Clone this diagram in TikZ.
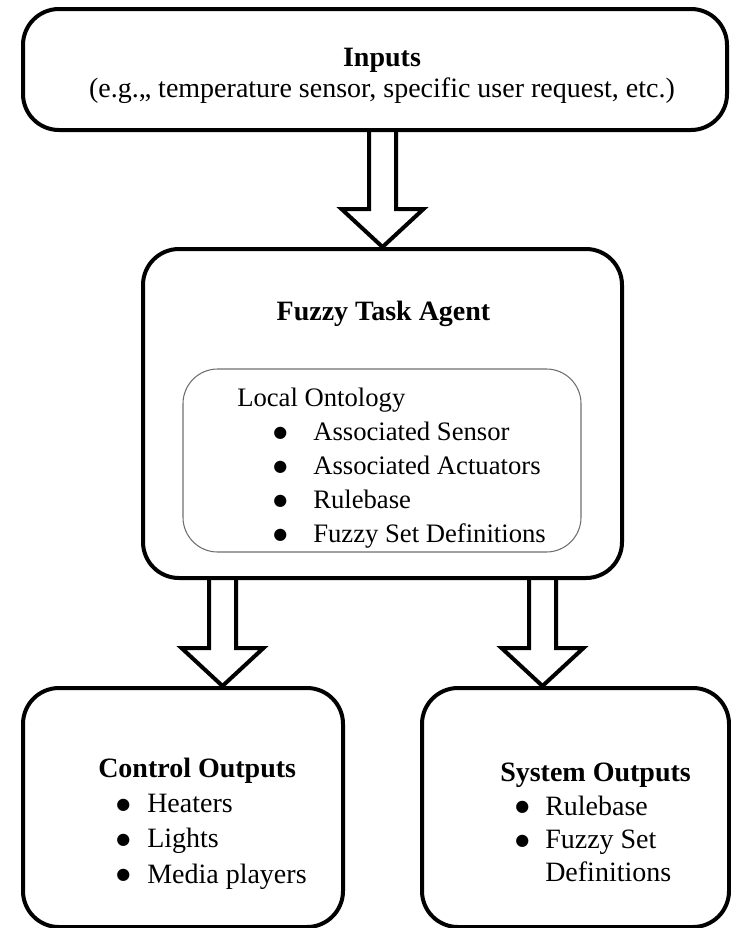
\documentclass[tikz,border=0pt]{standalone}
\usepackage{xcolor}
\usepackage{fontspec}
\setmainfont{Liberation Serif}
\newfontfamily\dotfont{DejaVu Sans}
\usetikzlibrary{calc}

\tikzset{
  bigbox/.style={draw, line width=3pt, rounded corners=27pt, inner sep=0pt},
  thinbox/.style={draw={rgb, 255:red, 110; green, 110; blue, 110}, line width=0.8pt, rounded corners=26pt, inner sep=0pt},
  blockline/.style={line width=3pt, line join=miter},
  txt/.style={inner sep=0pt, font=\fontsize{21}{25.5}\selectfont},
}
\newcommand{\bul}[1]{\makebox[#1][l]{\raisebox{2.6pt}{\dotfont\fontsize{12}{12}\selectfont ●}}}
\newcommand{\blockarrow}[2]{%
  \draw [blockline] ($(#1)+(-13.5,0)$) -- ($(#2)+(-13.5,-38)$) -- ($(#2)+(-41,-38)$) -- (#2) -- ($(#2)+(41,-38)$) -- ($(#2)+(13.5,-38)$) -- ($(#1)+(13.5,0)$) ;}

\begin{document}
\begin{tikzpicture}[x=0.75pt,y=0.75pt,yscale=-1,xscale=1]
\useasboundingbox (0,0) rectangle (731,928);

%Shape: Rounded Rectangle [inputs]
\node [bigbox, minimum width=528pt, minimum height=90.75pt] (inputs) at (375,69.5) {};
%Shape: Rounded Rectangle [fuzzy task agent]
\node [bigbox, minimum width=359.25pt, minimum height=246.75pt] (fta) at (382.5,413.5) {};
%Shape: Rounded Rectangle [local ontology]
\node [thinbox, minimum width=298.5pt, minimum height=137.25pt] (onto) at (382,460.5) {};
%Shape: Rounded Rectangle [control outputs]
\node [bigbox, minimum width=240pt, minimum height=179.25pt] (ctrl) at (183,807.5) {};
%Shape: Rounded Rectangle [system outputs]
\node [bigbox, minimum width=230.25pt, minimum height=179.25pt] (sys) at (575.5,807.5) {};

%Block Arrows
\coordinate (lout) at ($(fta.south)+(-160,0)$);
\coordinate (rout) at ($(fta.south)+(160,0)$);
\blockarrow{inputs.south -| fta.north}{fta.north}
\blockarrow{lout}{ctrl.north -| lout}
\blockarrow{rout}{sys.north -| rout}

% Text Node
\node [txt, align=center, font=\fontsize{21}{23.5}\selectfont] (inputstxt) at (382,76) {\textbf{Inputs}\\(e.g.,, temperature sensor, specific user request, etc.)};
% Text Node
\node [txt, font=\fontsize{21}{25.5}\selectfont\bfseries] (ftatitle) at (383.5,314) {Fuzzy Task Agent};
% Text Node
\node [txt, anchor=north west, align=left, font=\fontsize{20}{25.5}\selectfont] (ontotxt) at (237,388) {Local Ontology\\\hspace{27pt}\bul{30pt}Associated Sensor\\\hspace{27pt}\bul{30pt}Associated Actuators\\\hspace{27pt}\bul{30pt}Rulebase\\\hspace{27pt}\bul{30pt}Fuzzy Set Definitions};
% Text Node
\node [txt, anchor=north west, align=left, font=\fontsize{21}{26.5}\selectfont] (ctrltxt) at (98,757.5) {\textbf{Control Outputs}\\\hspace{13.5pt}\bul{23.25pt}Heaters\\\hspace{13.5pt}\bul{23.25pt}Lights\\\hspace{13.5pt}\bul{23.25pt}Media players};
% Text Node
\node [txt, anchor=north west, align=left, font=\fontsize{21}{25}\selectfont] (systxt) at (500,763) {\textbf{System Outputs}\\\hspace{11.25pt}\bul{22.5pt}Rulebase\\\hspace{11.25pt}\bul{22.5pt}Fuzzy Set\\\hspace{33.75pt}Definitions};

\end{tikzpicture}
\end{document}
